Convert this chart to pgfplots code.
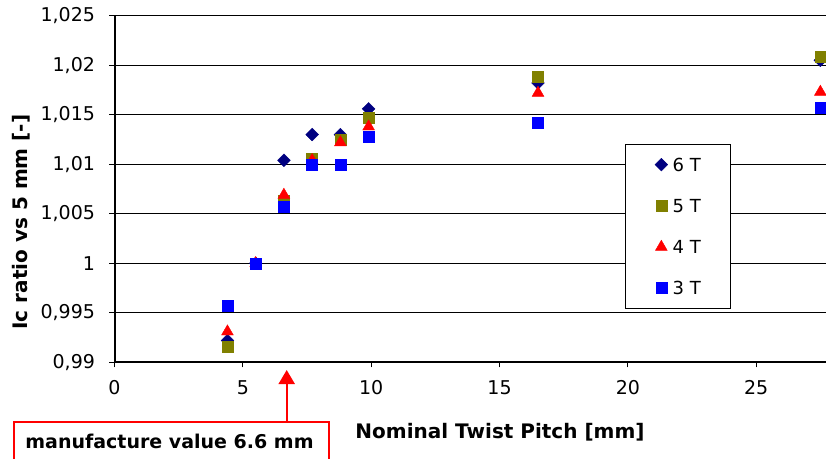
\documentclass[border=0pt]{standalone}
\usepackage{pgfplots}
\pgfplotsset{compat=1.18}
\usepackage{fontspec}
\setmainfont{DejaVu Sans}
\usetikzlibrary{arrows.meta}
\definecolor{sixT}{HTML}{000080}
\definecolor{fiveT}{HTML}{808000}
\definecolor{fourT}{HTML}{FF0000}
\definecolor{threeT}{HTML}{0000FF}
\begin{document}
\begin{tikzpicture}[x=1pt,y=1pt]
\useasboundingbox (0,0) rectangle (826,458);
\begin{axis}[
  at={(114.5pt,95.7pt)}, anchor=south west,
  scale only axis, width=711.5pt, height=346.6pt,
  xmin=0, xmax=27.72, ymin=0.99, ymax=1.025,
  axis x line*=bottom, axis y line*=left,
  axis line style={line width=2pt, -},
  xtick={0,5,10,15,20,25},
  xticklabels={0,5,10,15,20,25},
  ytick={0.99,0.995,1,1.005,1.01,1.015,1.02,1.025},
  yticklabels={{0,99},{0,995},{1},{1,005},{1,01},{1,015},{1,02},{1,025}},
  /pgf/number format/assume math mode=true,
  ymajorgrids, grid style={line width=1.25pt, black},
  tick style={black, line width=1.2pt}, tick align=outside, major tick length=5pt,
  ticklabel style={font=\fontsize{19}{22}\selectfont},
  xticklabel style={yshift=-10pt},
  yticklabel style={xshift=-11pt},
  xlabel={\textbf{Nominal Twist Pitch [mm]}},
  ylabel={\textbf{Ic ratio vs 5 mm [-]}},
  label style={font=\fontsize{20}{24}\selectfont},
  xlabel style={at={(axis description cs:0.5418,-0.2024)}, anchor=center},
  ylabel style={at={(axis description cs:-0.1314,0.4046)}, anchor=center},
  legend style={at={(0.7176,0.629)}, anchor=north west, draw=black, line width=0.8pt,
    fill=white, font=\fontsize{18}{20}\selectfont,
    inner xsep=29.5pt, inner ysep=13.5pt, row sep=28pt,
    nodes={inner sep=0pt, text height=13pt, text depth=0pt},
    /tikz/every odd column/.append style={column sep=5pt}},
  legend cell align=left,
  legend image code/.code={\draw[mark repeat=2,mark phase=2,#1] plot coordinates {(0pt,0pt)(6pt,0pt)(12pt,0pt)};},
]
\addplot[only marks, mark=square*, mark size=4.5pt, mark options={rotate=45, fill=sixT, draw=sixT, line width=0.4pt}] coordinates {
(4.4,0.9922) (5.5,1.0) (6.6,1.0104) (7.7,1.0130) (8.8,1.0130) (9.9,1.0156) (16.5,1.0182) (27.5,1.0205)};
\addlegendentry{6 T}
\addplot[only marks, mark=square*, mark size=5.5pt, mark options={fill=fiveT, draw=fiveT, line width=0.4pt}] coordinates {
(4.4,0.9916) (5.5,1.0) (6.6,1.0063) (7.7,1.0106) (8.8,1.0125) (9.9,1.0147) (16.5,1.0188) (27.5,1.0209)};
\addlegendentry{5 T}
\addplot[only marks, mark=triangle*, mark size=6.8pt, mark options={fill=fourT, draw=fourT, line width=0.4pt}] coordinates {
(4.4,0.9931) (5.5,1.0) (6.6,1.0069) (7.7,1.0104) (8.8,1.0122) (9.9,1.0138) (16.5,1.0172) (27.5,1.0173)};
\addlegendentry{4 T}
\addplot[only marks, mark=square*, mark size=5.5pt, mark options={fill=threeT, draw=threeT, line width=0.4pt}] coordinates {
(4.4,0.9957) (5.5,1.0) (6.6,1.0057) (7.7,1.0100) (8.8,1.0100) (9.9,1.0128) (16.5,1.0142) (27.5,1.0157)};
\addlegendentry{3 T}
\end{axis}
\draw[red, line width=2pt] (14,-5) rectangle (329,36.3);
\node[font=\fontsize{19}{22}\selectfont\bfseries, anchor=center] at (169.5,17) {manufacture value 6.6 mm};
\draw[red, line width=2pt, -{Triangle[width=16pt,length=14pt]}] (286.7,36.3) -- (286.7,88);
\end{tikzpicture}
\end{document}
